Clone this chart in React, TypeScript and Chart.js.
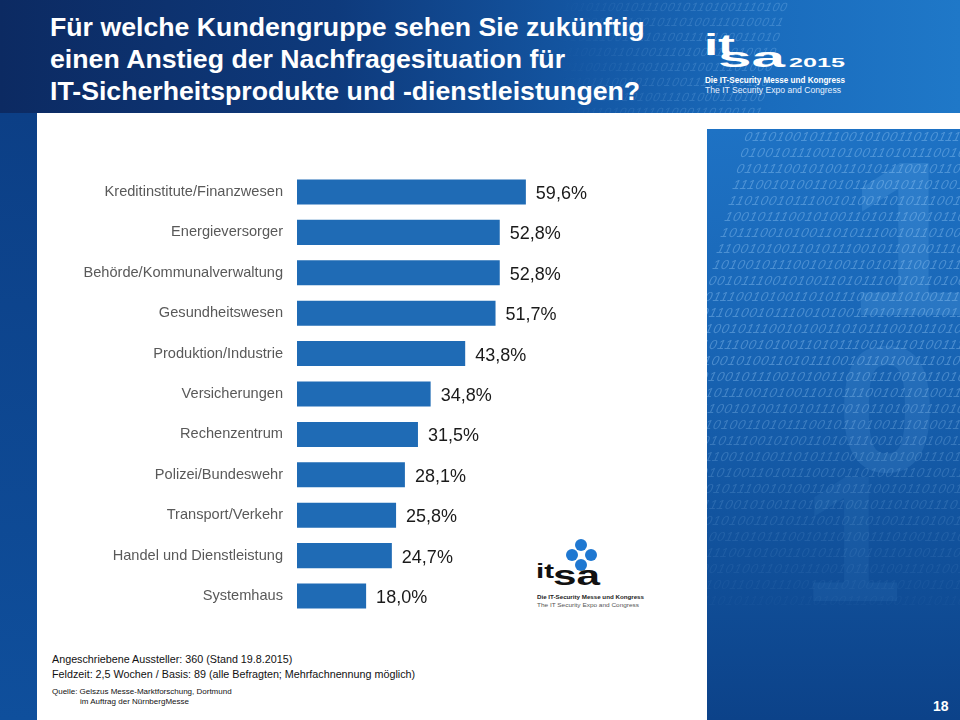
import React, { useEffect, useRef } from "react";
import { Chart, registerables } from "chart.js";

Chart.register(...registerables);

const categories = [
  "Kreditinstitute/Finanzwesen",
  "Energieversorger",
  "Behörde/Kommunalverwaltung",
  "Gesundheitswesen",
  "Produktion/Industrie",
  "Versicherungen",
  "Rechenzentrum",
  "Polizei/Bundeswehr",
  "Transport/Verkehr",
  "Handel und Dienstleistung",
  "Systemhaus",
];
const values = [59.6, 52.8, 52.8, 51.7, 43.8, 34.8, 31.5, 28.1, 25.8, 24.7, 18.0];
const valueLabels = ["59,6%", "52,8%", "52,8%", "51,7%", "43,8%", "34,8%", "31,5%", "28,1%", "25,8%", "24,7%", "18,0%"];

const titleLines = [
  "Für welche Kundengruppe sehen Sie zukünftig",
  "einen Anstieg der Nachfragesituation für",
  "IT-Sicherheitsprodukte und -dienstleistungen?",
];
const noteLines = [
  "Angeschriebene Aussteller: 360 (Stand 19.8.2015)",
  "Feldzeit: 2,5 Wochen / Basis: 89 (alle Befragten; Mehrfachnennung möglich)",
];
const sourceLines = ["Quelle: Gelszus Messe-Marktforschung, Dortmund", "im Auftrag der NürnbergMesse"];
const logoLines = ["Die IT-Security Messe und Kongress", "The IT Security Expo and Congress"];

const FONT = '"Liberation Sans", Arial, Helvetica, sans-serif';
const BAR_COLOR = "#1f6bb5";

const binaryRow = "0110100101110010100110101110010110100111010011010110010111001011010011101001101011001011100101101001110100";

function BinaryPattern({ rows, size, opacity, mask }: { rows: number; size: number; opacity: number; mask: string }) {
  const lines = [];
  for (let i = 0; i < rows; i++) {
    const s = binaryRow.slice((i * 3) % 11) + binaryRow.slice(0, (i * 3) % 11);
    lines.push(
      <div key={i} style={{ whiteSpace: "nowrap", lineHeight: size + 3 + "px" }}>
        {s}
      </div>
    );
  }
  return (
    <div
      style={{
        position: "absolute",
        inset: 0,
        WebkitMaskImage: mask,
        maskImage: mask,
        pointerEvents: "none",
      }}
    >
      <div
        style={{
          position: "absolute",
          top: 0,
          left: -20,
          fontFamily: FONT,
          fontStyle: "italic",
          fontSize: size,
          color: `rgba(170,215,255,${opacity})`,
          transform: "skewX(-14deg)",
          letterSpacing: 1,
        }}
      >
        {lines}
      </div>
    </div>
  );
}

export default function App() {
  const canvasRef = useRef<HTMLCanvasElement | null>(null);

  useEffect(() => {
    const canvas = canvasRef.current;
    if (!canvas) return;
    const valuePlugin = {
      id: "valueLabels",
      afterDatasetsDraw(chart: any) {
        const ctx = chart.ctx;
        const meta = chart.getDatasetMeta(0);
        ctx.save();
        ctx.font = `18px ${FONT}`;
        ctx.fillStyle = "#1a1a1a";
        ctx.textAlign = "left";
        ctx.textBaseline = "middle";
        meta.data.forEach((bar: any, i: number) => {
          ctx.fillText(valueLabels[i], bar.x + 10, bar.y + 2);
        });
        ctx.restore();
      },
    };
    const chart = new Chart(canvas, {
      type: "bar",
      data: {
        labels: categories,
        datasets: [
          {
            data: values,
            backgroundColor: BAR_COLOR,
            borderWidth: 0,
            barPercentage: 0.62,
            categoryPercentage: 1,
          },
        ],
      },
      options: {
        indexAxis: "y",
        responsive: false,
        animation: false,
        layout: { padding: { left: 0, right: 26, top: 0, bottom: 0 } },
        plugins: {
          legend: { display: false },
          tooltip: { enabled: false },
        },
        scales: {
          x: { display: false, min: 0, max: 100 },
          y: {
            grid: { display: false, drawTicks: false },
            border: { display: false },
            ticks: {
              padding: 14,
              color: "#595959",
              font: { family: FONT, size: 14.6 },
            },
            afterFit(scale: any) {
              scale.width = 260;
            },
          },
        },
      },
      plugins: [valuePlugin],
    });
    return () => chart.destroy();
  }, []);

  const ghost = (left: number, top: number, ch: string, size: number, color: string) => (
    <div
      style={{
        position: "absolute",
        left,
        top,
        fontFamily: FONT,
        fontWeight: "bold",
        fontSize: size,
        lineHeight: size + "px",
        color,
        whiteSpace: "nowrap",
      }}
    >
      {ch}
    </div>
  );

  return (
    <div
      style={{
        position: "fixed",
        left: 0,
        top: 0,
        width: 960,
        height: 720,
        overflow: "hidden",
        background: "#ffffff",
        fontFamily: FONT,
      }}
    >
      {/* header banner */}
      <div
        style={{
          position: "absolute",
          left: 0,
          top: 0,
          width: 960,
          height: 113,
          background: "linear-gradient(90deg, #0c2a62 0%, #0e3a7c 35%, #1458a5 62%, #1a6cbd 80%, #1f78c8 100%)",
          overflow: "hidden",
        }}
      >
        <BinaryPattern
          rows={9}
          size={12}
          opacity={0.3}
          mask="linear-gradient(90deg, transparent 0%, transparent 58%, rgba(0,0,0,0.6) 72%, #000 90%)"
        />
      </div>
      {/* left stripe */}
      <div
        style={{
          position: "absolute",
          left: 0,
          top: 113,
          width: 37,
          height: 607,
          background: "linear-gradient(180deg, #0c3f86 0%, #0f4f9c 100%)",
        }}
      />
      {/* right panel */}
      <div
        style={{
          position: "absolute",
          left: 707,
          top: 129,
          width: 253,
          height: 591,
          background: "linear-gradient(180deg, #1e72c4 0%, #1966b6 35%, #12549f 65%, #0c4289 100%)",
          overflow: "hidden",
        }}
      >
        {ghost(140, 0, "1", 220, "rgba(130,200,255,0.16)")}
        {ghost(130, 190, "0", 180, "rgba(130,200,255,0.12)")}
        {ghost(95, 320, "1", 180, "rgba(130,200,255,0.07)")}
        <BinaryPattern
          rows={30}
          size={13}
          opacity={0.35}
          mask="linear-gradient(180deg, #000 0%, #000 40%, rgba(0,0,0,0.4) 65%, transparent 85%)"
        />
      </div>

      {/* all slide text */}
      <svg width={960} height={720} style={{ position: "absolute", left: 0, top: 0, pointerEvents: "none" }}>
        {titleLines.map((t, i) => (
          <text key={i} x={50} y={36 + i * 32} fill="#ffffff" fontFamily={FONT} fontWeight="bold" fontSize={26.7}>
            {t}
          </text>
        ))}

        {/* header logo */}
        <text x={704} y={55} fill="#ffffff" fontFamily={FONT} fontWeight="bold" fontSize={30} textLength={31} lengthAdjust="spacingAndGlyphs">
          it
        </text>
        <text x={718} y={67} fill="#ffffff" fontFamily={FONT} fontWeight="bold" fontSize={27} textLength={67} lengthAdjust="spacingAndGlyphs">
          sa
        </text>
        <text x={789} y={67} fill="#ffffff" fontFamily={FONT} fontWeight="bold" fontSize={12.5} textLength={56} lengthAdjust="spacingAndGlyphs">
          2015
        </text>
        <text x={705} y={83} fill="#ffffff" fontFamily={FONT} fontWeight="bold" fontSize={8.5} textLength={140} lengthAdjust="spacingAndGlyphs">
          {logoLines[0]}
        </text>
        <text x={705} y={93} fill="#e6f0ff" fontFamily={FONT} fontSize={8.5} textLength={136} lengthAdjust="spacingAndGlyphs">
          {logoLines[1]}
        </text>

        {/* lower logo */}
        <circle cx={581} cy={545} r={6} fill="#1f78d1" />
        <circle cx={572} cy={555} r={6} fill="#1f78d1" />
        <circle cx={591} cy={555} r={6} fill="#1f78d1" />
        <circle cx={581} cy={565} r={6} fill="#1f78d1" />
        <text x={536} y={578} fill="#111111" fontFamily={FONT} fontWeight="bold" fontSize={21} textLength={18} lengthAdjust="spacingAndGlyphs">
          it
        </text>
        <text x={553} y={585} fill="#111111" fontFamily={FONT} fontWeight="bold" fontSize={28} textLength={47} lengthAdjust="spacingAndGlyphs">
          sa
        </text>
        <text x={537} y={599} fill="#222222" fontFamily={FONT} fontWeight="bold" fontSize={6} textLength={107} lengthAdjust="spacingAndGlyphs">
          {logoLines[0]}
        </text>
        <text x={537} y={607} fill="#555555" fontFamily={FONT} fontSize={6} textLength={102} lengthAdjust="spacingAndGlyphs">
          {logoLines[1]}
        </text>

        {/* footnotes */}
        {noteLines.map((t, i) => (
          <text key={"n" + i} x={52} y={663 + i * 14.5} fill="#111111" fontFamily={FONT} fontSize={10.75}>
            {t}
          </text>
        ))}
        <text x={52} y={694} fill="#111111" fontFamily={FONT} fontSize={8}>
          {sourceLines[0]}
        </text>
        <text x={80} y={704} fill="#111111" fontFamily={FONT} fontSize={8}>
          {sourceLines[1]}
        </text>

        {/* page number */}
        <text x={933} y={711} fill="#ffffff" fontFamily={FONT} fontWeight="bold" fontSize={14}>
          18
        </text>
      </svg>

      {/* chart */}
      <canvas
        ref={canvasRef}
        width={670}
        height={490}
        style={{ position: "absolute", left: 37, top: 149, width: 670, height: 490 }}
      />
    </div>
  );
}
